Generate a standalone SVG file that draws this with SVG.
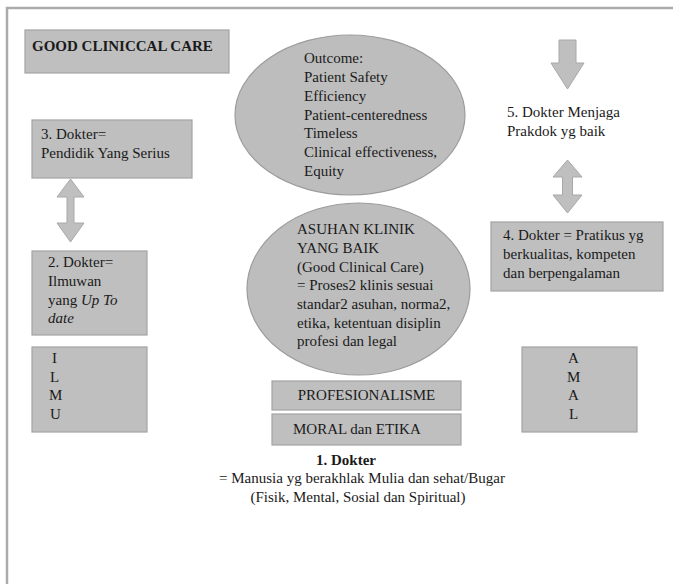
<svg xmlns="http://www.w3.org/2000/svg" width="673" height="584" viewBox="0 0 673 584">
<style>
.t{font-family:"Liberation Serif","Times New Roman",serif;font-size:15px;fill:#1a1a1a}
.b{font-weight:bold}
.i{font-style:italic}
.box{fill:#bfbfbf;stroke:#a3a3a3;stroke-width:1.2}
.ell{fill:#bdbdbd;stroke:#9c9c9c;stroke-width:1.2}
.arr{fill:#bfbfbf;stroke:#a8a8a8;stroke-width:1}
.frame{fill:none;stroke:#ababab;stroke-width:2.5}
</style>
<rect width="673" height="584" fill="#ffffff"/>
<path class="frame" d="M7,584 V8 H673"/>

<g id="title">
<rect class="box" x="25" y="30" width="204" height="43"/>
<text class="t b" x="32" y="51" font-size="14.5">GOOD CLINICCAL CARE</text>
</g>

<g id="outcome">
<ellipse class="ell" cx="350" cy="115" rx="115" ry="80"/>
<text class="t" x="304"><tspan x="304" y="63">Outcome:</tspan><tspan x="304" y="82">Patient Safety</tspan><tspan x="304" y="101">Efficiency</tspan><tspan x="304" y="120">Patient-centeredness</tspan><tspan x="304" y="138">Timeless</tspan><tspan x="304" y="157">Clinical effectiveness,</tspan><tspan x="304" y="176">Equity</tspan></text>
</g>

<g id="asuhan">
<ellipse class="ell" cx="358.5" cy="289" rx="111.5" ry="86"/>
<text class="t"><tspan x="297" y="234">ASUHAN KLINIK</tspan><tspan x="297" y="253">YANG BAIK</tspan><tspan x="297" y="272">(Good Clinical Care)</tspan><tspan x="297" y="290">= Proses2 klinis sesuai</tspan><tspan x="297" y="309">standar2 asuhan, norma2,</tspan><tspan x="297" y="328">etika, ketentuan disiplin</tspan><tspan x="297" y="346">profesi dan legal</tspan></text>
</g>

<g id="profesionalisme">
<rect class="box" x="272" y="381" width="189" height="29"/>
<text class="t" x="366.5" y="400" text-anchor="middle">PROFESIONALISME</text>
</g>

<g id="moral">
<rect class="box" x="272" y="414" width="189" height="31"/>
<text class="t" x="293" y="434">MORAL dan ETIKA</text>
</g>

<g id="dokter1">
<text class="t b" x="346" y="465" text-anchor="middle">1. Dokter</text>
<text class="t" x="362" y="483" text-anchor="middle">= Manusia yg berakhlak Mulia dan sehat/Bugar</text>
<text class="t" x="358" y="502" text-anchor="middle">(Fisik, Mental, Sosial dan Spiritual)</text>
</g>

<g id="dokter3">
<rect class="box" x="32" y="120" width="160" height="58"/>
<text class="t"><tspan x="41" y="139">3. Dokter=</tspan><tspan x="41" y="158">Pendidik Yang Serius</tspan></text>
</g>

<g id="dokter2">
<rect class="box" x="32" y="251" width="115" height="84"/>
<text class="t"><tspan x="48" y="267">2. Dokter=</tspan><tspan x="48" y="286">Ilmuwan</tspan><tspan x="48" y="305">yang <tspan class="i">Up To</tspan></tspan><tspan x="48" y="323" class="i">date</tspan></text>
</g>

<g id="ilmu">
<rect class="box" x="32" y="347" width="115" height="85"/>
<text class="t"><tspan x="52" y="363">I</tspan><tspan x="50" y="382">L</tspan><tspan x="49" y="400">M</tspan><tspan x="50" y="419">U</tspan></text>
</g>

<g id="dokter5">
<text class="t"><tspan x="507" y="117">5. Dokter Menjaga</tspan><tspan x="507" y="136">Prakdok yg baik</tspan></text>
</g>

<g id="dokter4">
<rect class="box" x="491" y="222" width="172" height="69"/>
<text class="t"><tspan x="503" y="240">4. Dokter = Pratikus yg</tspan><tspan x="503" y="259">berkualitas, kompeten</tspan><tspan x="503" y="278">dan berpengalaman</tspan></text>
</g>

<g id="amal">
<rect class="box" x="522" y="347" width="115" height="85"/>
<text class="t"><tspan x="568" y="363">A</tspan><tspan x="567" y="382">M</tspan><tspan x="568" y="400">A</tspan><tspan x="569" y="419">L</tspan></text>
</g>

<g id="connectors">
<polygon class="arr" points="70.5,179 84,197 74,197 74,223 84,223 70.5,242 57,223 67,223 67,197 57,197"/>
<polygon class="arr" points="559,40 576,40 576,63 584,63 567.5,89 551,63 559,63"/>
<polygon class="arr" points="567.5,160 582,177 572.5,177 572.5,195 582,195 567.5,213 553,195 562.5,195 562.5,177 553,177"/>
</g>
</svg>
